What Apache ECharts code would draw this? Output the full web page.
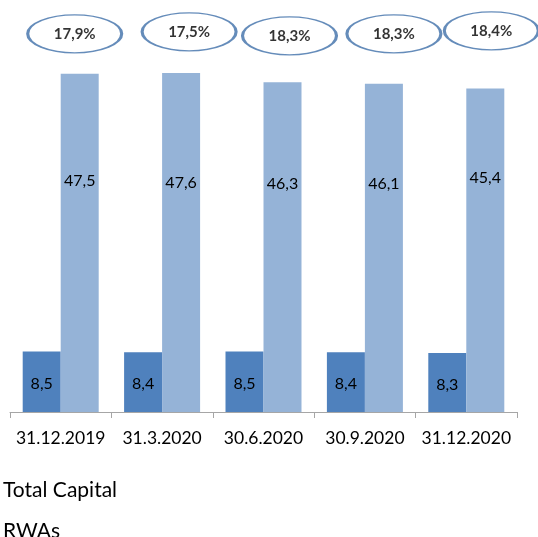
<!DOCTYPE html>
<html>
<head>
<meta charset="utf-8">
<script src="https://cdn.jsdelivr.net/npm/echarts@6/dist/echarts.min.js"></script>
<style>html,body{margin:0;padding:0;background:#fff}#c{width:538px;height:537px}</style>
</head>
<body>
<div id="c"></div>
<script>
var categories = ['31.12.2019', '31.3.2020', '30.6.2020', '30.9.2020', '31.12.2020'];
var totalCapital = [8.5, 8.4, 8.5, 8.4, 8.3];
var rwas = [47.5, 47.6, 46.3, 46.1, 45.4];
var capitalRatio = [17.9, 17.5, 18.3, 18.3, 18.4];

// layout tweaks (not data)
var bubbleLevel = 53.1;
var bubbleNudge = [[14, 0], [27, -2], [26, 2], [29, 0], [25, -3]];
var rwaLabelDistance = [99, 102, 94, 92, 81];

function fmt(v) { return v.toFixed(1).replace('.', ','); }

var ellipsePath = 'path://M0,50 A50,50 0 1,1 100,50 A50,50 0 1,1 0,50 Z';
var FONT = 'Lato';

var chart = echarts.init(document.getElementById('c'));
chart.setOption({
  animation: false,
  backgroundColor: '#ffffff',
  grid: { left: 10, right: 21, top: 6, bottom: 125, containLabel: false },
  legend: {
    orient: 'vertical',
    left: -2,
    top: 479,
    height: 120,
    padding: 0,
    itemWidth: 0,
    itemHeight: 0,
    itemGap: 19,
    icon: 'rect',
    textStyle: { fontFamily: FONT, fontSize: 21, color: '#000', lineHeight: 22 },
    data: ['Total Capital', 'RWAs'],
    selectedMode: false
  },
  xAxis: {
    type: 'category',
    data: categories,
    boundaryGap: true,
    axisLine: { lineStyle: { color: '#A6A6A6', width: 1 } },
    axisTick: { show: true, length: 6, lineStyle: { color: '#A6A6A6' } },
    axisLabel: { interval: 0, fontFamily: FONT, fontSize: 17.5, color: '#000', margin: 17 }
  },
  yAxis: {
    type: 'value', min: 0, max: 57,
    show: false, splitLine: { show: false }
  },
  series: [
    {
      name: 'Total Capital',
      type: 'bar',
      data: totalCapital,
      barWidth: 38,
      barGap: '0%',
      itemStyle: { color: '#4F81BD' },
      label: {
        show: true, position: 'inside', offset: [0, 2],
        fontFamily: FONT, fontSize: 16, color: '#000',
        formatter: function (p) { return fmt(p.value); }
      }
    },
    {
      name: 'RWAs',
      type: 'bar',
      data: rwas.map(function (v, i) {
        return { value: v, label: { distance: rwaLabelDistance[i] } };
      }),
      barWidth: 38,
      barGap: '0%',
      itemStyle: { color: '#95B3D7' },
      label: {
        show: true, position: 'insideTop',
        fontFamily: FONT, fontSize: 16, color: '#000',
        formatter: function (p) { return fmt(p.value); }
      }
    },
    {
      name: 'ratio',
      type: 'scatter',
      data: capitalRatio.map(function (r, i) {
        return { value: [i, bubbleLevel], symbolOffset: bubbleNudge[i] };
      }),
      symbol: ellipsePath,
      symbolSize: [94, 38],
      itemStyle: { color: '#ffffff', borderColor: '#3F6FA9', borderWidth: 2 },
      label: {
        show: true, position: 'inside',
        fontFamily: FONT, fontSize: 15, fontWeight: 'bold', color: '#000',
        formatter: function (p) { return fmt(capitalRatio[p.dataIndex]) + '%'; }
      },
      z: 5
    }
  ]
});
</script>
</body>
</html>
